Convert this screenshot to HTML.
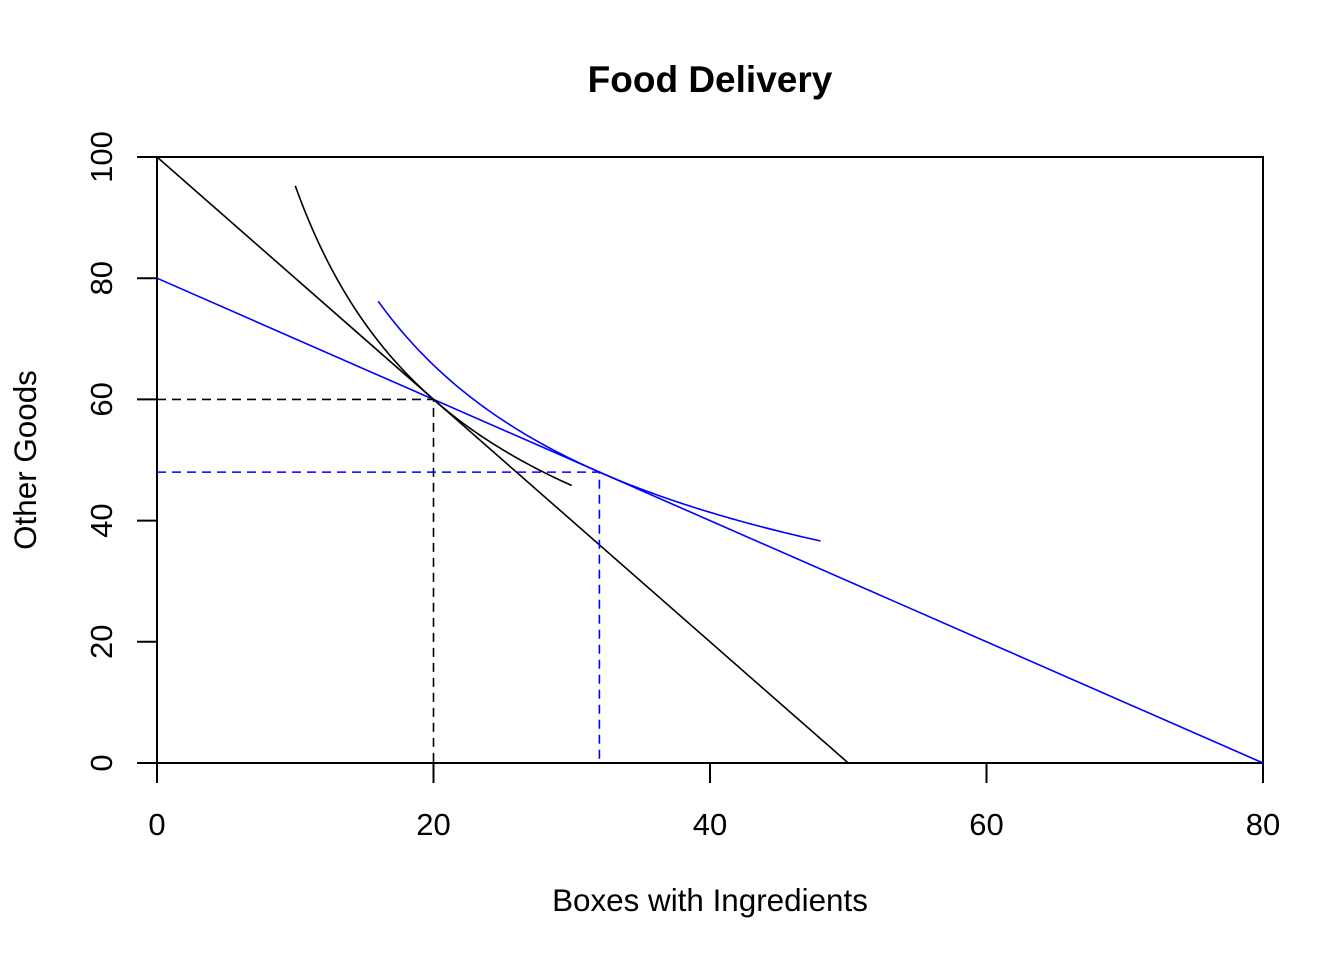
<!DOCTYPE html>
<html><head><meta charset="utf-8"><style>
body{margin:0;background:#fff}
svg text{font-family:"Liberation Sans",Arial,sans-serif}
</style></head><body>
<svg id="chart" width="1344" height="960" xmlns="http://www.w3.org/2000/svg">
<text x="710" y="92" font-size="37" font-weight="bold" text-anchor="middle">Food Delivery</text>
<text x="710" y="911" font-size="31.4" text-anchor="middle">Boxes with Ingredients</text>
<text transform="translate(36,460) rotate(-90)" font-size="31.4" text-anchor="middle">Other Goods</text>
<g id="plot"></g>
</svg>
<script>
const xTicks=[0,20,40,60,80];
const yTicks=[0,20,40,60,80,100];
const budgetBlack=[[0,100],[50,0]];
const budgetBlue=[[0,80],[80,0]];
const optBlack=[20,60];
const optBlue=[32,48];
const curveBlackRange=[10,30];
const curveBlueRange=[16,48];
const curveExponent=[2/3];
const X=v=>157+v*(1263-157)/80;
const Y=v=>763-v*(763-157)/100;
const g=document.getElementById('plot');
const NS='http://www.w3.org/2000/svg';
function mk(tag,attrs,name){const e=document.createElementNS(NS,tag);for(const k in attrs)e.setAttribute(k,attrs[k]);


g.appendChild(e);return e;}
mk('rect',{x:157,y:157,width:1106,height:606,fill:'none',stroke:'#000','stroke-width':2},'plot-box');
xTicks.forEach(t=>{mk('line',{x1:X(t),x2:X(t),y1:763,y2:783,stroke:'#000','stroke-width':2},'x-tick');
const tx=mk('text',{x:X(t),y:835,'font-size':31,'text-anchor':'middle'},'x-tick-label');tx.textContent=t;});
yTicks.forEach(t=>{mk('line',{x1:137,x2:157,y1:Y(t),y2:Y(t),stroke:'#000','stroke-width':2},'y-tick');
const tx=mk('text',{transform:`translate(112,${Y(t)}) rotate(-90)`,'font-size':31,'text-anchor':'middle'},'y-tick-label');tx.textContent=t;});
function line(p,c,n){mk('line',{x1:X(p[0][0]),y1:Y(p[0][1]),x2:X(p[1][0]),y2:Y(p[1][1]),stroke:c,'stroke-width':1.6},n);}
line(budgetBlack,'#000','budget-line-black');
line(budgetBlue,'#00f','budget-line-blue');
function guides(o,c,n){mk('polyline',{points:`${X(0)},${Y(o[1])} ${X(o[0])},${Y(o[1])} ${X(o[0])},${Y(0)}`,fill:'none',stroke:c,'stroke-width':1.6,'stroke-dasharray':'9,6'},n);}
guides(optBlack,'#000','optimum-guide-black');
guides(optBlue,'#00f','optimum-guide-blue');
function curve(o,r,c,n){const a=curveExponent[0];const k=o[1]*Math.pow(o[0],a);let pts=[];
for(let i=0;i<=100;i++){const x=r[0]+(r[1]-r[0])*i/100;pts.push(X(x)+','+Y(k*Math.pow(x,-a)));}
mk('polyline',{points:pts.join(' '),fill:'none',stroke:c,'stroke-width':1.6},n);}
curve(optBlack,curveBlackRange,'#000','indifference-curve-black');
curve(optBlue,curveBlueRange,'#00f','indifference-curve-blue');
</script>
</body></html>
